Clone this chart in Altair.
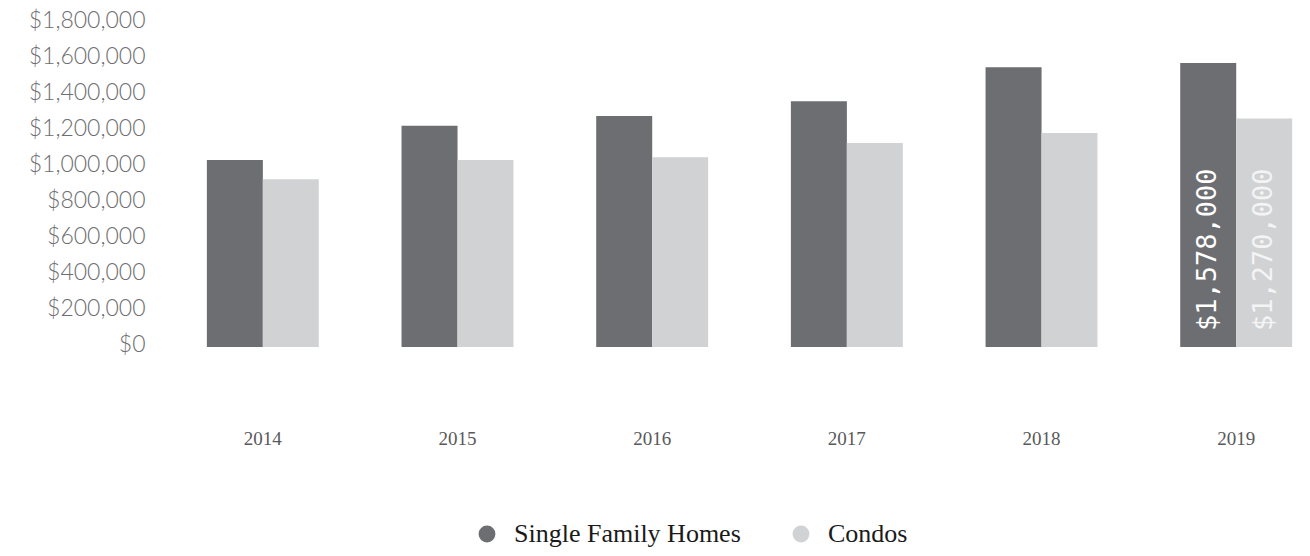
import altair as alt
import pandas as pd

years = ["2014", "2015", "2016", "2017", "2018", "2019"]
single_family = [1039000, 1229000, 1283000, 1365000, 1554000, 1578000]
condos = [932000, 1039000, 1054000, 1133000, 1189000, 1270000]
series_names = ["Single Family Homes", "Condos"]
series_colors = ["#6d6e71", "#d1d2d4"]
y_ticks = [0, 200000, 400000, 600000, 800000, 1000000, 1200000, 1400000, 1600000, 1800000]

rows = []
for i, yr in enumerate(years):
    rows.append({"year": yr, "series": series_names[0], "value": single_family[i]})
    rows.append({"year": yr, "series": series_names[1], "value": condos[i]})
df = pd.DataFrame(rows)

x_axis = alt.Axis(
    labelAngle=0,
    domain=False,
    ticks=False,
    labelPadding=91,
    labelBaseline="middle",
    labelFont="Liberation Serif",
    labelFontSize=19,
    labelColor="#58595b",
)
x_scale = alt.Scale(paddingInner=0.4256, paddingOuter=0.092)
xoff_scale = alt.Scale(paddingInner=0, paddingOuter=0)
y_axis = alt.Axis(
    values=y_ticks,
    format="$,.0f",
    domain=False,
    ticks=False,
    grid=False,
    labelOverlap=False,
    labelFlush=False,
    labelPadding=44,
    labelOffset=-3,
    labelFont="Lato",
    labelFontWeight=300,
    labelFontSize=23,
    labelColor="#6d6e71",
)
y_scale = alt.Scale(domain=[0, 1800000], nice=False)

bars = alt.Chart(df).mark_bar(size=56).encode(
    x=alt.X("year:N", sort=years, title=None, scale=x_scale, axis=x_axis),
    xOffset=alt.XOffset("series:N", sort=series_names, scale=xoff_scale),
    y=alt.Y("value:Q", title=None, scale=y_scale, axis=y_axis),
    color=alt.Color(
        "series:N",
        sort=series_names,
        scale=alt.Scale(domain=series_names, range=series_colors),
        legend=alt.Legend(
            title=None,
            orient="none",
            direction="horizontal",
            legendX=285,
            legendY=498,
            symbolType="circle",
            symbolSize=283,
            symbolStrokeWidth=0,
            labelFont="Liberation Serif",
            labelFontSize=26,
            labelColor="#1a1a1a",
            labelOffset=14,
            columnPadding=47,
            labelLimit=400,
        ),
    ),
)

labels = (
    alt.Chart(df)
    .transform_filter(alt.datum.year == "2019")
    .transform_calculate(zero="0")
    .mark_text(
        angle=270,
        align="left",
        baseline="middle",
        dx=16,
        font="DejaVu Sans Mono",
        fontSize=27,
    )
    .encode(
        x=alt.X("year:N", sort=years, title=None, scale=x_scale, axis=x_axis),
        xOffset=alt.XOffset("series:N", sort=series_names, scale=xoff_scale),
        y=alt.Y("zero:Q", title=None, scale=y_scale, axis=y_axis),
        text=alt.Text("value:Q", format="$,.0f"),
        color=alt.Color(
            "series:N",
            scale=alt.Scale(domain=series_names, range=["#ffffff", "#f4f4f4"]),
            legend=None,
        ),
    )
)

chart = (
    alt.layer(bars, labels)
    .resolve_scale(color="independent")
    .properties(
        width=1121,
        height=324,
        autosize=alt.AutoSizeParams(type="none"),
        padding={"left": 189, "top": 23, "right": 0, "bottom": 209},
    )
    .configure_view(strokeWidth=0, stroke=None)
)

chart.save("out.html", embed_options={"renderer": "svg", "actions": False})
